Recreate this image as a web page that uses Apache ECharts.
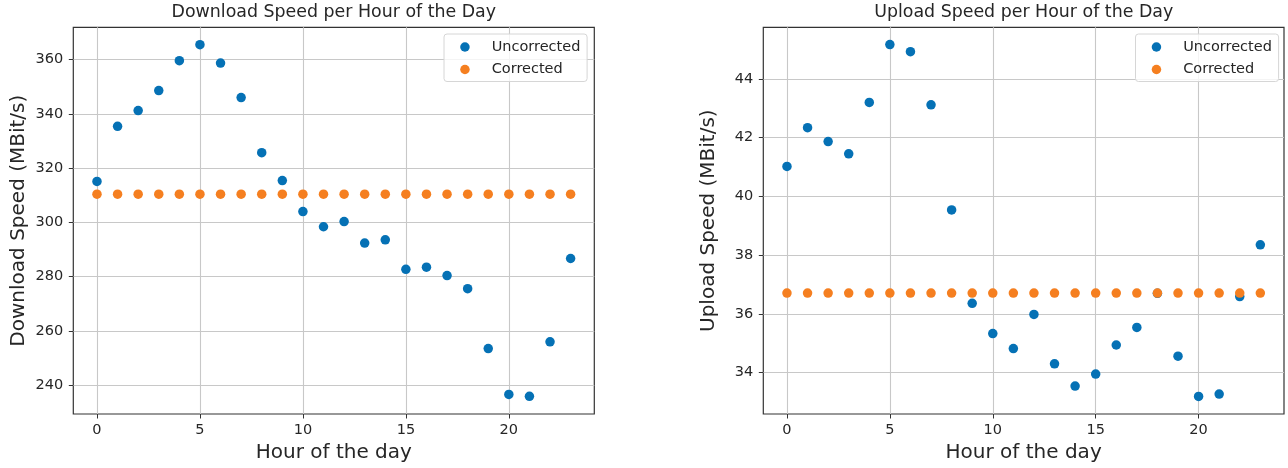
<!DOCTYPE html>
<html>
<head>
<meta charset="utf-8">
<script src="https://cdn.jsdelivr.net/npm/echarts@6/dist/echarts.min.js"></script>
<style>html,body{margin:0;padding:0;background:#fff}#c{width:1288px;height:468px}</style>
</head>
<body>
<div id="c"></div>
<script>
const hours = [0,1,2,3,4,5,6,7,8,9,10,11,12,13,14,15,16,17,18,19,20,21,22,23];
const downloadUncorrected = [315.1,335.4,341.2,348.6,359.6,365.5,358.7,346.0,325.7,315.4,304.0,298.4,300.3,292.4,293.6,282.7,283.5,280.4,275.6,253.5,236.6,235.9,256.0,286.7];
const downloadCorrected = [310.4,310.4,310.4,310.4,310.4,310.4,310.4,310.4,310.4,310.4,310.4,310.4,310.4,310.4,310.4,310.4,310.4,310.4,310.4,310.4,310.4,310.4,310.4,310.4];
const uploadUncorrected = [41.02,42.34,41.87,41.45,43.20,45.17,44.93,43.12,39.54,36.36,35.33,34.82,35.98,34.30,33.54,33.95,34.94,35.54,36.70,34.56,33.19,33.27,36.59,38.35];
const uploadCorrected = [36.71,36.71,36.71,36.71,36.71,36.71,36.71,36.71,36.71,36.71,36.71,36.71,36.71,36.71,36.71,36.71,36.71,36.71,36.71,36.71,36.71,36.71,36.71,36.71];
const xTicks = [0,5,10,15,20];
const downloadTicks = [240,260,280,300,320,340,360];
const uploadTicks = [34,36,38,40,42,44];
const seriesNames = ['Uncorrected','Corrected'];
const titles = ['Download Speed per Hour of the Day','Upload Speed per Hour of the Day'];
const xLabel = 'Hour of the day';
const yLabels = ['Download Speed (MBit/s)','Upload Speed (MBit/s)'];

const FONT = 'DejaVu Sans';
const TXT = '#262626';
const BLUE = '#0571b5';
const ORANGE = '#f57f20';

function pairs(vals){ return hours.map((h,i)=>[h, vals[i]]); }

function xAxis(idx){
  return {
    type:'value', gridIndex:idx, min:-1.15, max:24.15,
    name:xLabel, nameLocation:'middle', nameGap:29,
    nameTextStyle:{fontFamily:FONT, fontSize:20, color:TXT},
    axisLine:{show:false, onZero:false},
    axisTick:{show:true, length:4.5, customValues:xTicks, lineStyle:{color:'#333', width:1}},
    axisLabel:{customValues:xTicks, fontFamily:FONT, fontSize:14.5, color:TXT, margin:8.5},
    splitLine:{show:true, lineStyle:{color:'#c8c8c8', width:1.1}}
  };
}
function yAxis(idx, min, max, ticks){
  return {
    type:'value', gridIndex:idx, min:min, max:max,
    name:yLabels[idx], nameLocation:'middle', nameGap:45,
    nameTextStyle:{fontFamily:FONT, fontSize:20, color:TXT},
    axisLine:{show:false, onZero:false},
    axisTick:{show:true, length:4.5, customValues:ticks, lineStyle:{color:'#333', width:1}},
    axisLabel:{customValues:ticks, fontFamily:FONT, fontSize:14.5, color:TXT, margin:10},
    splitLine:{show:true, lineStyle:{color:'#c8c8c8', width:1.1}}
  };
}
function legend(left){
  return {
    left:left, top:34, orient:'vertical',
    data:seriesNames.map(n=>({name:n, icon:'circle'})),
    itemWidth:9.5, itemHeight:9.5, itemGap:6.5,
    padding:[5,6.7,4,16.2],
    backgroundColor:'rgba(255,255,255,0.8)',
    borderColor:'#d6d6d6', borderWidth:1, borderRadius:3,
    textStyle:{fontFamily:FONT, fontSize:14.5, color:TXT, lineHeight:16, padding:[0,0,0,17]},
    selectedMode:false
  };
}
function sc(name, data, xi, color, z){
  return {
    type:'scatter', name:name, xAxisIndex:xi, yAxisIndex:xi,
    data:pairs(data), symbolSize:9.5, z:z,
    itemStyle:{color:color, opacity:1}, silent:true
  };
}

const chart = echarts.init(document.getElementById('c'), null, {renderer:'canvas'});
chart.setOption({
  animation:false,
  backgroundColor:'#fff',
  title:[
    {text:titles[0], left:333.8, textAlign:'center', top:4, padding:0,
     textStyle:{fontFamily:FONT, fontSize:17.4, fontWeight:'normal', color:TXT}},
    {text:titles[1], left:1023.7, textAlign:'center', top:4, padding:0,
     textStyle:{fontFamily:FONT, fontSize:17.4, fontWeight:'normal', color:TXT}}
  ],
  grid:[
    {left:73.3, top:27.3, width:521, height:387.7, show:true, borderColor:'#333', borderWidth:1.2, backgroundColor:'transparent', containLabel:false},
    {left:763.3, top:27.3, width:520.7, height:387.7, show:true, borderColor:'#333', borderWidth:1.2, backgroundColor:'transparent', containLabel:false}
  ],
  legend:[legend(444), legend(1135.5)],
  xAxis:[xAxis(0), xAxis(1)],
  yAxis:[yAxis(0, 229.4, 371.9, downloadTicks), yAxis(1, 32.59, 45.76, uploadTicks)],
  series:[
    sc(seriesNames[0], downloadUncorrected, 0, BLUE, 2),
    sc(seriesNames[1], downloadCorrected, 0, ORANGE, 3),
    sc(seriesNames[0], uploadUncorrected, 1, BLUE, 2),
    sc(seriesNames[1], uploadCorrected, 1, ORANGE, 3)
  ]
});
</script>
</body>
</html>
